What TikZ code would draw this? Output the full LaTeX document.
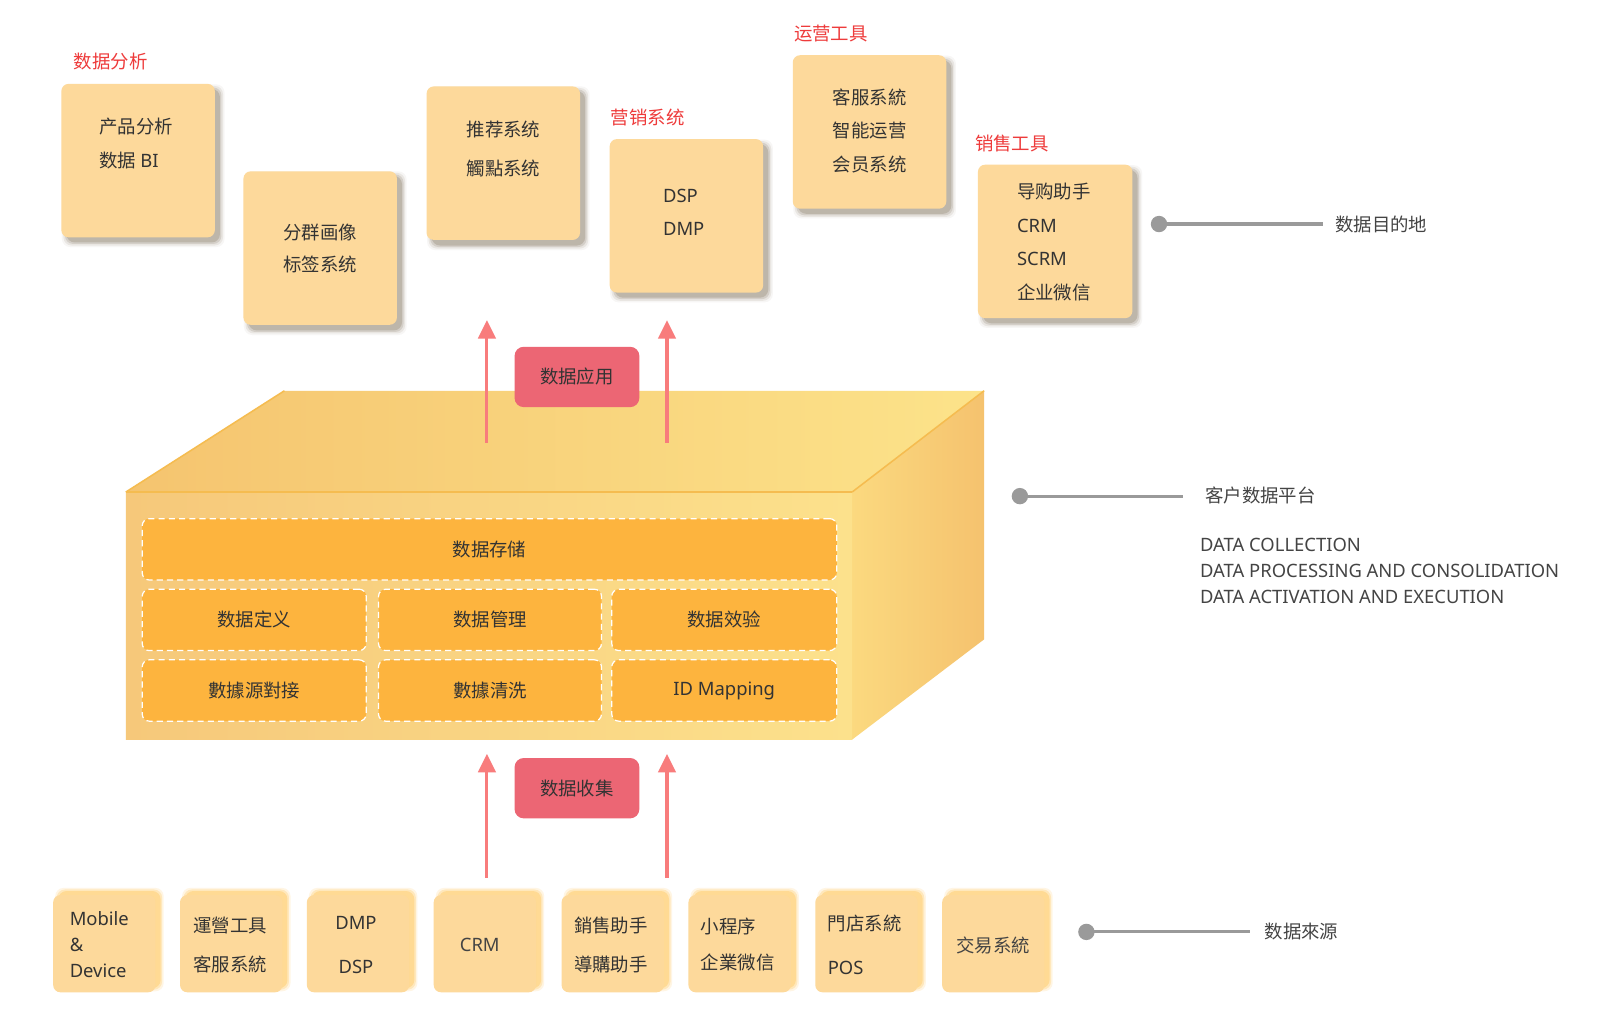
\documentclass[tikz,border=0pt]{standalone}
\usepackage{fontspec}
\setmainfont{Noto Sans}
\newfontfamily\cjk{Noto Sans CJK SC}
\usetikzlibrary{arrows.meta}
\definecolor{notec}{HTML}{FDD99B}
\definecolor{topshc}{HTML}{6E5C44}
\definecolor{botshc}{HTML}{FFC24A}
\definecolor{redlab}{HTML}{EE3B3B}
\definecolor{txtc}{HTML}{333333}
\definecolor{innerc}{HTML}{FDB43E}
\definecolor{pillc}{HTML}{EC6674}
\definecolor{arrc}{HTML}{F87C7C}
\definecolor{annoc}{HTML}{9A9A9A}
\definecolor{annotxt}{HTML}{444444}
\definecolor{topL}{HTML}{F5C46F}
\definecolor{topR}{HTML}{FCE38A}
\definecolor{frontL}{HTML}{F6C87A}
\definecolor{frontR}{HTML}{FCE18C}
\definecolor{sideL}{HTML}{FBD97F}
\definecolor{sideR}{HTML}{F5C26E}
\definecolor{edgec}{HTML}{F5BC50}
\newcommand{\myfz}[1]{\fontsize{18}{#1}\selectfont}
\newcommand{\mytopshadow}[4]{%
  \foreach \sh/\op in {0/0.22,1.5/0.16,3/0.10,4.5/0.05}{%
    \fill[topshc, opacity=\op, rounded corners=8pt] ({#1+5-\sh},{#2+5-\sh}) rectangle ({#3+5+\sh},{#4+5+\sh});
  }}
\newcommand{\mybotshadow}[4]{%
  \foreach \sh/\op in {0/0.35,1.5/0.25,3/0.15}{%
    \fill[botshc, opacity=\op, rounded corners=8pt] ({#1+5-\sh},{#2-4-\sh}) rectangle ({#3+5+\sh},{#4-4+\sh});
  }}
\begin{document}
\begin{tikzpicture}[x=1pt,y=-1pt,
  note/.style={fill=notec, rounded corners=7pt, minimum width=150pt, minimum height=150pt, inner sep=0pt},
  bnote/.style={fill=notec, rounded corners=7pt, minimum width=100pt, minimum height=95pt, inner sep=0pt},
  ntext/.style={text=txtc, align=left, inner sep=0pt},
  redlabel/.style={text=redlab, anchor=west, inner sep=0pt, font=\myfz{22}\cjk},
  inner/.style={fill=innerc, draw=white, dash pattern=on 6pt off 4pt, line width=1.2pt, rounded corners=7pt, inner sep=0pt, text=txtc, font=\myfz{22}\cjk},
  pill/.style={fill=pillc, rounded corners=9pt, minimum width=122pt, minimum height=59pt, inner sep=0pt, text=txtc, font=\myfz{22}\cjk},
  arr/.style={draw=arrc, line width=3pt, -{Triangle[width=17pt,length=18pt]}},
  dot/.style={circle, fill=annoc, minimum size=16pt, inner sep=0pt},
  annoline/.style={draw=annoc, line width=3pt},
  annotext/.style={text=annotxt, anchor=west, inner sep=0pt, font=\myfz{22}\cjk}
]
\useasboundingbox (0,0) rectangle (1568,1008);
\fill[white] (0,0) rectangle (1568,1008);

% ---------- top sticky notes ----------
\mytopshadow{60}{82}{210}{232}
\mytopshadow{238}{167}{388}{318}
\mytopshadow{417}{84}{567}{235}
\mytopshadow{596}{136}{746}{286}
\mytopshadow{775}{54}{925}{204}
\mytopshadow{956}{161}{1107}{311}

\node[note] (b1) at (135,157) {};
\node[note] (b2) at (313,242.5) {};
\node[note] (b3) at (492,159.5) {};
\node[note] (b4) at (671,211) {};
\node[note] (b5) at (850,129) {};
\node[note, minimum width=151pt] (b6) at (1031.5,236) {};

\node[ntext, anchor=west, font=\myfz{33}] (b1t) at (97,140.5) {\cjk 产品分析\\\cjk 数据 \normalfont BI};
\node[ntext, anchor=west, font=\myfz{32}\cjk] (b2t) at (277,243) {分群画像\\标签系统};
\node[ntext, anchor=west, font=\myfz{38}\cjk] (b3t) at (456,146) {推荐系统\\觸點系统};
\node[ntext, anchor=west, font=\myfz{33}] (b4t) at (648,207.5) {DSP\\DMP};
\node[ntext, anchor=west, font=\myfz{33}\cjk] (b5t) at (814,128) {客服系統\\智能运营\\会员系统};
\node[ntext, anchor=west, font=\myfz{33}] (b6t) at (994,236.5) {\cjk 导购助手\\\normalfont CRM\\SCRM\\\cjk 企业微信};

\node[redlabel] (l1) at (72,60) {数据分析};
\node[redlabel] (l2) at (597,115) {营销系统};
\node[redlabel] (l3) at (776,33) {运营工具};
\node[redlabel] (l4) at (953,140) {销售工具};

% ---------- cube ----------
\shade[left color=topL, right color=topR] (123,481) -- (278,382) -- (962,382) -- (833,481) -- cycle;
\shade[left color=sideL, right color=sideR] (833,481) -- (962,382) -- (962,625) -- (833,723) -- cycle;
\shade[left color=frontL, right color=frontR] (123,481) rectangle (833,723);
\draw[edgec, line width=1.5pt] (123,481) -- (278,382);
\draw[edgec, line width=1.5pt] (833,481) -- (962,382);
\draw[edgec, line width=2pt] (123,481) -- (833,481);

\node[inner, minimum width=679pt, minimum height=60pt] (s1) at (478.5,537) {数据存储};
\node[inner, minimum width=219pt, minimum height=60pt] (s21) at (248.5,606) {数据定义};
\node[inner, minimum width=218pt, minimum height=60pt] (s22) at (479,606) {数据管理};
\node[inner, minimum width=220pt, minimum height=60pt] (s23) at (708,606) {数据效验};
\node[inner, minimum width=219pt, minimum height=60pt] (s31) at (248.5,675) {數據源對接};
\node[inner, minimum width=218pt, minimum height=60pt] (s32) at (479,675) {數據清洗};
\node[inner, minimum width=220pt, minimum height=60pt, font=\myfz{22}] (s33) at (708,675) {ID Mapping};

% ---------- arrows and pills ----------
\coordinate (ua1s) at (476,433);
\coordinate (ua1e) at (476,313);
\coordinate (ua2s) at (652,433);
\coordinate (ua2e) at (652,313);
\coordinate (la1s) at (476,858);
\coordinate (la1e) at (476,737);
\coordinate (la2s) at (652,858);
\coordinate (la2e) at (652,737);
\draw[arr] (ua1s) -- (ua1e);
\draw[arr] (ua2s) -- (ua2e);
\draw[arr] (la1s) -- (la1e);
\draw[arr] (la2s) -- (la2e);

\node[pill] (p1) at (564,368.5) {数据应用};
\node[pill] (p2) at (564,770.5) {数据收集};

% ---------- bottom sources ----------
\foreach \cx in {102,226,350,474,599,723,847,971}{%
  \mybotshadow{\cx-50}{875}{\cx+50}{970}
}
\node[bnote] (c1) at (102,922.5) {};
\node[bnote] (c2) at (226,922.5) {};
\node[bnote] (c3) at (350,922.5) {};
\node[bnote] (c4) at (474,922.5) {};
\node[bnote] (c5) at (599,922.5) {};
\node[bnote] (c6) at (723,922.5) {};
\node[bnote] (c7) at (847,922.5) {};
\node[bnote] (c8) at (971,922.5) {};

\node[ntext, anchor=west, font=\myfz{25.5}] (c1t) at (68,923) {Mobile\\\&\\Device};
\node[ntext, anchor=west, font=\myfz{38}\cjk] (c2t) at (189,924) {運營工具\\客服系統};
\node[ntext, align=center, font=\myfz{43}] (c3t) at (348,923.5) {DMP\\DSP};
\node[ntext, text=annotxt, font=\myfz{22}] (c4t) at (469,924) {CRM};
\node[ntext, anchor=west, font=\myfz{38}\cjk] (c5t) at (561,924) {銷售助手\\導購助手};
\node[ntext, anchor=west, font=\myfz{35}\cjk] (c6t) at (685,923.5) {小程序\\企業微信};
\node[ntext, anchor=west, font=\myfz{43}] (c7t) at (809,923.5) {\cjk 門店系統\\\normalfont POS};
\node[ntext, text=annotxt, font=\myfz{22}\cjk] (c8t) at (971,924) {交易系統};

% ---------- right annotations ----------
\node[dot] (d1) at (1133,219) {};
\coordinate (e1) at (1293,219);
\draw[annoline] (d1.center) -- (e1);
\node[annotext] (t1) at (1305,219) {数据目的地};

\node[dot] (d2) at (997,485) {};
\coordinate (e2) at (1156,485);
\draw[annoline] (d2.center) -- (e2);
\node[annotext] (t2) at (1178,484) {客户数据平台};

\node[annotext, align=left, font=\myfz{25.5}, text=annotxt] (t2b) at (1173,558.5) {DATA COLLECTION\\DATA PROCESSING AND CONSOLIDATION\\DATA ACTIVATION AND EXECUTION};

\node[dot] (d3) at (1062,911) {};
\coordinate (e3) at (1222,911);
\draw[annoline] (d3.center) -- (e3);
\node[annotext] (t3) at (1236,911) {数据來源};
\end{tikzpicture}
\end{document}
